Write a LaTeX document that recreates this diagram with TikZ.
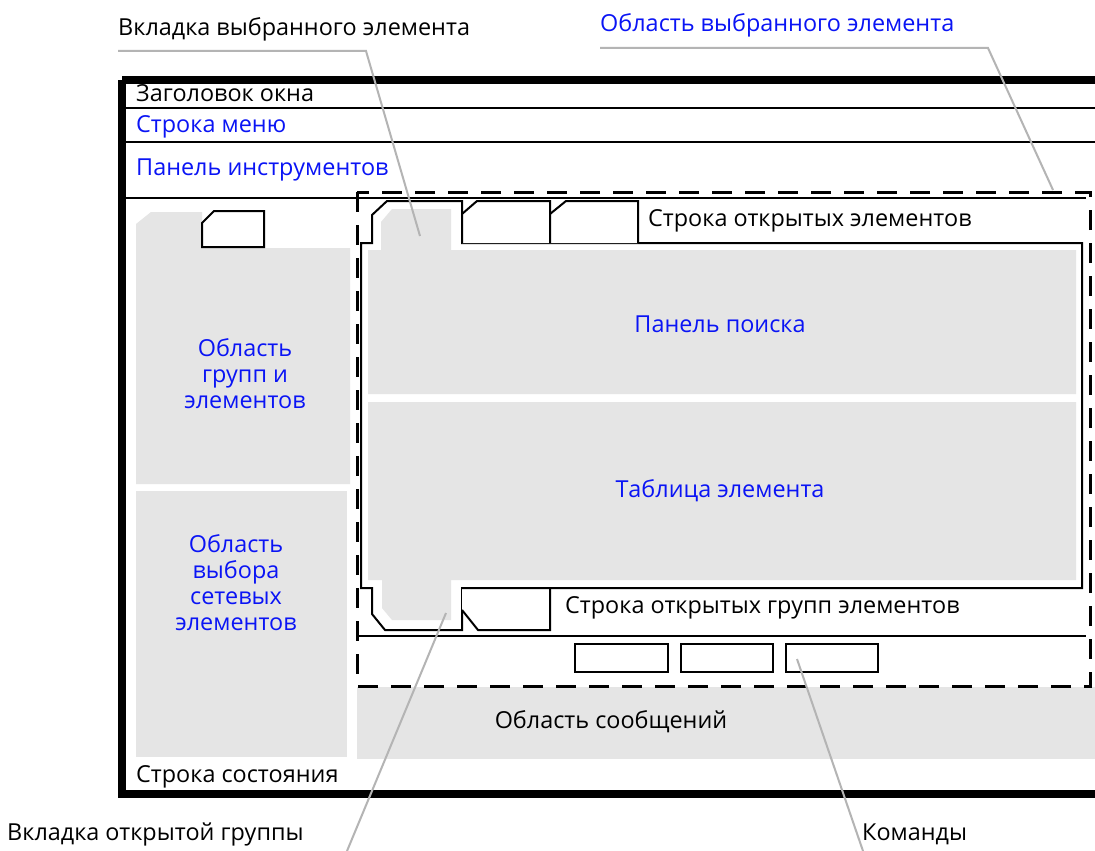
\documentclass[tikz,border=0pt]{standalone}
\usepackage{fontspec}
\setmainfont{Open Sans}
\definecolor{uiblue}{HTML}{0A14F5}
\definecolor{panelgray}{HTML}{E5E5E5}
\definecolor{callgray}{HTML}{B4B4B4}
\tikzset{
  txt/.style={inner sep=0pt, font=\fontsize{23.4}{26}\selectfont, text=black},
  bluetxt/.style={txt, text=uiblue},
  thin line/.style={line width=2pt, draw=black},
  gray panel/.style={fill=panelgray, draw=none},
  selarea/.style={line width=3pt, dash pattern=on 20pt off 13pt, draw=black},
  callout/.style={line width=2pt, draw=callgray},
  tabbox/.style={thin line, fill=white, line join=miter},
  cmdbox/.style={draw, line width=2pt, minimum height=28pt, inner sep=0pt},
}
\begin{document}
\begin{tikzpicture}[x=1pt,y=-1pt]
\useasboundingbox (0,0) rectangle (1095,851);
\fill[white] (0,0) rectangle (1095,851);
\clip (0,0) rectangle (1095,851);

% gray panels
\path[gray panel] (136,224) -- (151,212) -- (202,212) -- (202,248) -- (350,248) -- (350,484) -- (136,484) -- cycle;
\path[gray panel] (136,491) rectangle (347,757);
\path[gray panel] (357,687) rectangle (1095,759);
\path[gray panel] (368,250) -- (381,250) -- (381,222) -- (392,209) -- (451,209) -- (451,250) -- (1076,250) -- (1076,394) -- (368,394) -- cycle;
\path[gray panel] (368,402) -- (1076,402) -- (1076,580) -- (451,580) -- (451,620) -- (392,620) -- (382,608) -- (382,580) -- (368,580) -- cycle;

% window frame and bars
\draw[line width=8pt] (122,80) -- (1130,80) (122,80) -- (122,794) -- (1130,794);
\draw[thin line] (126,108) -- (1095,108);
\draw[thin line] (126,142) -- (1095,142);
\draw[thin line] (126,198) -- (1086,198);

% left panel tab
\draw[tabbox] (202,223) -- (214,211) -- (264,211) -- (264,247) -- (202,247) -- cycle;

% element frame with selected tabs
\draw[thin line, line join=miter] (372,243) -- (372,215) -- (387,201) -- (462,201) -- (462,243) -- (1082,243) -- (1082,588) -- (462,588) -- (462,630) -- (385,630) -- (372,614) -- (372,588) -- (361,588) -- (361,243) -- cycle;
\draw[tabbox] (462,243) -- (462,214) -- (477,201) -- (550,201) -- (550,243);
\draw[tabbox] (550,243) -- (550,214) -- (566,201) -- (638,201) -- (638,243);
\draw[tabbox] (462,588) -- (550,588) -- (550,630) -- (478,630) -- (462,610);

% commands row
\draw[thin line] (357,636) -- (1086,636);
\node[cmdbox, minimum width=93pt] (cmd1) at (621.5,658) {};
\node[cmdbox, minimum width=92pt] (cmd2) at (727,658) {};
\node[cmdbox, minimum width=92pt] (cmd3) at (832,658) {};

% selected element area
\draw[selarea] (357,192) rectangle (1090,686);

% texts
\node[txt, anchor=base west] (title) at (136,102) {Заголовок окна};
\node[bluetxt, anchor=base west] (menu) at (136,132) {Строка меню};
\node[bluetxt, anchor=base west] (toolbar) at (136,175) {Панель инструментов};
\node[txt, anchor=base west] (openel) at (648,226) {Строка открытых элементов};
\node[bluetxt, anchor=base] (search) at (720,332) {Панель поиска};
\node[bluetxt, anchor=base] (table) at (720,497) {Таблица элемента};
\node[txt, anchor=base west] (opengr) at (565,613) {Строка открытых групп элементов};
\node[txt, anchor=base] (msg) at (611,728) {Область сообщений};
\node[txt, anchor=base west] (status) at (136,782) {Строка состояния};
\node[bluetxt, align=center] (groups) at (245,374) {Область\\групп и\\элементов};
\node[bluetxt, align=center] (netsel) at (236,583) {Область\\выбора\\сетевых\\элементов};

% callout labels
\node[txt, anchor=base west] (lseltab) at (118,36) {Вкладка выбранного элемента};
\node[bluetxt, anchor=base west] (lselarea) at (600,32) {Область выбранного элемента};
\node[txt, anchor=base west] (lopengr) at (7,840) {Вкладка открытой группы};
\node[txt, anchor=base west] (lcmds) at (862,840) {Команды};

\coordinate (seltabpt) at (420,236);
\coordinate (selareapt) at (1053,190);
\coordinate (opengrpt) at (446,613);
\coordinate (cmdpt) at (797,659);
\coordinate (seltabk) at (366,51);
\coordinate (selareak) at (988,48);

\draw[callout] (lseltab.base west |- seltabk) -- (seltabk) -- (seltabpt);
\draw[callout] (lselarea.base west |- selareak) -- (selareak) -- (selareapt);
\draw[callout] (opengrpt) -- (347,851);
\draw[callout] (cmdpt) -- (863,851);
\end{tikzpicture}
\end{document}
